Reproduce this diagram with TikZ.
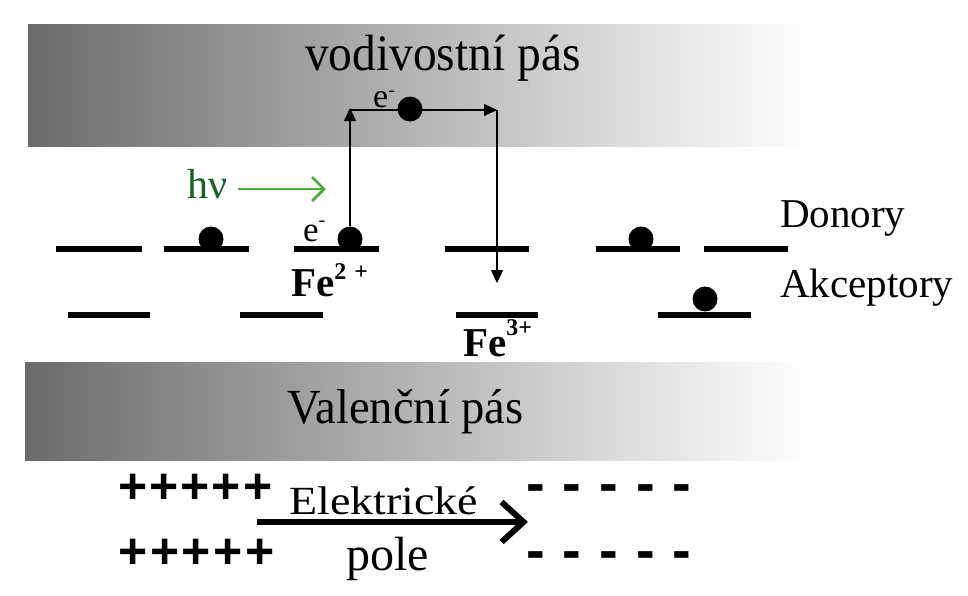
\documentclass[tikz,border=0pt]{standalone}
\usepackage{fontspec}
\setmainfont{Liberation Serif}
\newfontfamily\signfont{Liberation Sans}
\usetikzlibrary{arrows.meta}
\definecolor{hvtext}{RGB}{25,95,40}
\definecolor{hvarrow}{RGB}{80,170,65}
\newcommand{\fsz}[1]{\fontsize{#1}{#1}\selectfont}
\begin{document}
\begin{tikzpicture}[x=1pt,y=-1pt,
  band/.style={left color=black!58,right color=white,draw=none},
  level/.style={line width=5.5pt},
  electron/.style={circle,fill=black,inner sep=0pt,minimum size=25pt},
  lbl/.style={inner sep=0pt,anchor=base west},
  thinarrow/.style={line width=1.3pt,-{Triangle[length=13pt,width=12pt]}},
  signs/.style={inner sep=0pt,anchor=base west,font=\signfont\bfseries}]
\useasboundingbox (0,0) rectangle (968,595);
% bands
\fill[band] (28,24) rectangle (807,146);
\fill[band] (25,362) rectangle (807,460);
\node[lbl] (cbtext) at (305,70) {\scalebox{0.93}[1]{\fsz{51}vodivostní pás}};
\node[lbl] (vbtext) at (287,423) {\scalebox{0.95}[1]{\fsz{49}Valenční pás}};
% donor levels
\draw[level] (56,249) -- (142,249);
\draw[level] (164,249) -- (249,249);
\draw[level] (294,249) -- (379,249);
\draw[level] (445,249) -- (529,249);
\draw[level] (596,249) -- (680,249);
\draw[level] (704,249) -- (788,249);
% acceptor levels
\draw[level] (68,315) -- (150,315);
\draw[level] (240,315) -- (323,315);
\draw[level] (456,315) -- (538,315);
\draw[level] (658,315) -- (751,315);
% electrons
\node[electron] (d2) at (211,239) {};
\node[electron] (d3) at (350,239) {};
\node[electron] (d5) at (641,239) {};
\node[electron] (a4) at (705,299) {};
\node[electron] (cbe) at (410,109) {};
% labels
\node[lbl,font=\fsz{41}] (don) at (780,227) {Donory};
\node[lbl,font=\fsz{41}] (akc) at (780,297) {Akceptory};
\node[lbl,font=\fsz{42},text=hvtext] (hv) at (187,198) {hν};
\node[lbl,font=\fsz{35}] (e1) at (303,241) {e\raisebox{15pt}{\fsz{20}-}};
\node[lbl,font=\fsz{34}] (e2) at (373,107) {e\raisebox{11pt}{\fsz{20}-}};
\node[lbl,font=\fsz{41}\bfseries] (fe2) at (291,296) {Fe\raisebox{17pt}{\fsz{24}2\hspace{8pt}+}};
\node[lbl,font=\fsz{41}\bfseries] (fe3) at (463,356) {Fe\raisebox{21pt}{\fsz{24}3+}};
% transitions
\coordinate (c1) at (350,108);
\coordinate (c2) at (350,110);
\coordinate (c3) at (497,110);
\coordinate (c4) at (497,283);
\draw[thinarrow] (d3.north) -- (c1);
\draw[thinarrow] (c2) -- (c3);
\draw[thinarrow] (c3) -- (c4);
% light arrow
\coordinate (hvs) at (238,189);
\coordinate (hve) at (326,189);
\draw[hvarrow,line width=2.7pt,-{Straight Barb[length=12pt,width=24pt]}] (hvs) -- (hve);
% charges
\node[signs,font=\signfont\bfseries\fsz{50}] (p1) at (118,503) {+\kern2pt+\kern2pt+\kern2pt+\kern2pt+};
\node[signs,font=\signfont\bfseries\fsz{50}] (p2) at (118,568) {+\kern2.6pt+\kern2.6pt+\kern2.6pt+\kern2.6pt+};
\node[signs,font=\signfont\bfseries\fsz{56}] (m1) at (526,502) {-\kern18pt-\kern18pt-\kern18pt-\kern18pt-};
\node[signs,font=\signfont\bfseries\fsz{56}] (m2) at (526,569) {-\kern18pt-\kern18pt-\kern18pt-\kern18pt-};
% electric field
\node[lbl] (el) at (289,514) {\scalebox{1.15}[1]{\fsz{40}Elektrické}};
\node[lbl,font=\fsz{48}] (pole) at (346,570) {pole};
\coordinate (fs) at (257,522);
\coordinate (fe) at (528,522);
\draw[line width=5.5pt,-{Straight Barb[length=22pt,width=40pt,line width=6pt]}] (fs) -- (fe);
\end{tikzpicture}
\end{document}
